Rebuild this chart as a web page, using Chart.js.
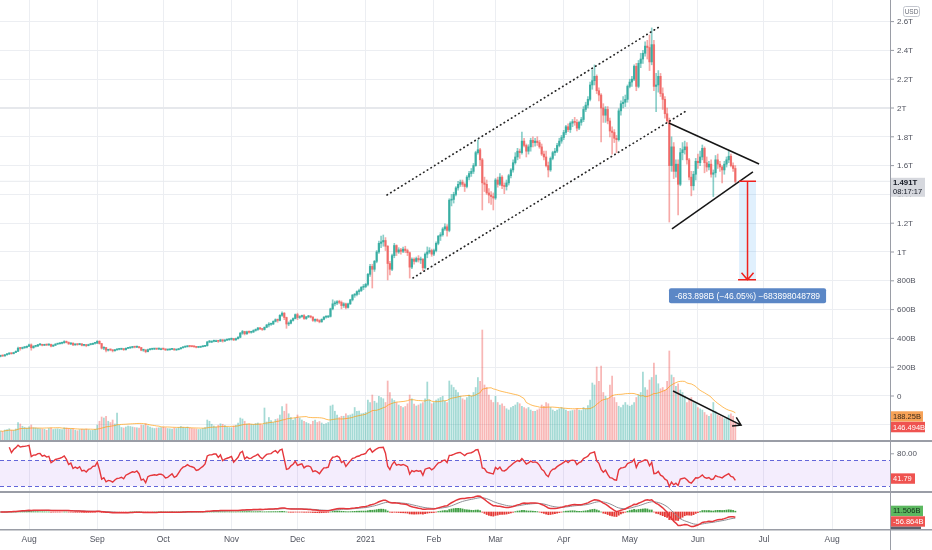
<!DOCTYPE html>
<html>
<head>
<meta charset="utf-8">
<title>Crypto total market cap</title>
<script src="https://cdn.jsdelivr.net/npm/chart.js@4.4.1/dist/chart.umd.min.js"></script>
<style>
  html, body { margin: 0; padding: 0; background: #fff; }
  #wrap { position: relative; width: 932px; height: 550px; overflow: hidden; }
  #wrap canvas { position: absolute; left: 0; }
  .sep { position: absolute; left: 0; width: 932px; height: 2px; background: #9a9da6; }
</style>
</head>
<body>
<div id="wrap">
  <canvas id="price" width="932" height="440" style="top:0"></canvas>
  <div class="sep" style="top:440px"></div>
  <canvas id="rsi" width="932" height="49" style="top:442px"></canvas>
  <div class="sep" style="top:491px"></div>
  <canvas id="macd" width="932" height="57" style="top:493px"></canvas>
</div>
<script>
// day index 0 = 19 Jul 2020, last candle = 18 Jun 2021
var monthTicks = [13, 44, 74, 105, 135, 166, 197, 225, 256, 286, 317, 347, 378];
var monthNames = ['Aug', 'Sep', 'Oct', 'Nov', 'Dec', '2021', 'Feb', 'Mar', 'Apr', 'May', 'Jun', 'Jul', 'Aug'];
var priceTicks = [-200, 0, 200, 400, 600, 800, 1000, 1200, 1400, 1600, 1800, 2000, 2200, 2400, 2600];

// values in billions USD
var firstOpen = 275;
var closes = [
  280,278,286,292,296,294,302,310,332,330,336,338,345, // jul
  355,335,345,346,356,357,352,357,354,358,346,352,360,363,366,370,378,372,362,367,355,360,357,362,352,354,350,357,359,366,367, // aug
  380,364,332,336,318,322,320,314,320,324,325,327,322,331,334,337,340,339,342,336,318,320,308,322,325,326,327,326,328,328, // sep
  326,320,321,324,327,320,322,328,335,340,342,346,344,343,342,338,339,342,345,350,375,380,380,384,384,380,390,382,388,391,394, // oct
  398,390,398,408,436,448,432,446,442,445,455,462,472,466,462,477,493,498,500,518,530,525,560,575,545,500,505,525,538,565, // nov
  545,552,558,538,550,553,548,525,530,524,515,532,548,549,553,605,640,645,655,650,628,640,615,640,668,700,705,725,732,755,760, // dec
  775,845,900,880,935,1000,1060,1070,1080,1040,920,880,975,1045,1000,1015,1005,1020,1010,995,895,950,935,955,945,950,890,985,1000,1010,985, // jan
  1010,1060,1110,1120,1160,1175,1150,1360,1365,1400,1445,1470,1485,1470,1455,1520,1545,1560,1600,1690,1710,1640,1480,1470,1410,1395,1385,1375, // feb
  1500,1470,1520,1460,1455,1480,1530,1570,1620,1660,1700,1690,1770,1740,1700,1730,1775,1760,1770,1760,1730,1680,1660,1600,1570,1650,1690,1700,1740,1770,1795, // mar
  1830,1870,1850,1895,1905,1900,1860,1900,1920,1990,2020,2060,2160,2190,2220,2120,2090,2000,1950,1990,1910,1840,1830,1790,1780,1980,2030,2040,2060,2150, // apr
  2180,2200,2290,2150,2310,2340,2380,2430,2420,2320,2440,2150,2160,2220,2100,2060,1960,1910,1600,1730,1560,1610,1470,1690,1710,1730,1640,1520,1460,1540,1630, // may
  1620,1660,1720,1620,1590,1610,1540,1550,1640,1610,1590,1570,1610,1640,1665,1600,1580,1491 // jun
];
var highs = [
  284,284,289,296,300,299,304,313,340,338,340,342,348,
  360,362,350,352,358,362,360,360,360,362,360,356,364,366,370,374,384,382,376,370,369,362,362,366,364,358,358,360,363,368,372,
  384,384,366,342,338,324,326,322,324,328,328,330,330,334,338,340,344,344,346,344,338,324,322,325,328,330,330,330,332,332,
  330,328,324,326,330,330,324,330,338,342,346,350,350,348,346,344,342,344,348,352,380,386,384,388,388,386,394,392,392,395,398,
  402,400,402,412,442,456,450,450,452,450,460,466,476,476,468,480,498,510,506,522,536,535,566,585,580,548,515,530,542,570,
  575,558,562,565,552,560,558,552,536,536,530,536,552,556,558,610,668,660,662,665,660,648,645,645,672,706,712,730,742,760,775,
  782,852,915,915,942,1010,1075,1110,1118,1100,1045,935,985,1060,1050,1030,1025,1035,1040,1020,1000,960,960,965,975,965,955,995,1035,1030,1020,
  1020,1070,1115,1135,1170,1195,1190,1370,1400,1415,1455,1490,1500,1500,1480,1530,1560,1580,1615,1700,1778,1720,1650,1520,1500,1440,1420,1410,
  1510,1520,1545,1530,1480,1500,1540,1580,1640,1690,1720,1715,1833,1790,1750,1745,1790,1800,1790,1800,1775,1750,1700,1700,1625,1660,1700,1720,1755,1790,1810,
  1845,1880,1890,1905,1920,1935,1920,1910,1935,2010,2040,2080,2180,2264,2299,2230,2140,2100,2030,2010,2010,1930,1870,1850,1810,1995,2050,2080,2090,2160,
  2200,2220,2300,2310,2330,2380,2400,2460,2470,2507,2556,2470,2240,2260,2240,2140,2080,2000,1930,1800,1760,1640,1640,1720,1760,1770,1760,1650,1560,1560,1650,
  1680,1700,1743,1730,1660,1630,1640,1570,1670,1680,1630,1600,1630,1660,1700,1680,1620,1600
];
var lows = [
  272,274,276,284,288,290,292,300,308,318,326,330,334,
  342,318,332,340,344,352,348,350,350,352,340,344,350,358,360,362,366,368,358,356,350,352,352,355,348,348,342,348,354,356,360,
  364,360,326,322,306,312,314,306,312,318,320,321,316,318,328,330,333,334,336,332,314,310,300,306,318,321,322,322,322,323,
  322,316,316,318,322,318,316,320,326,332,337,340,340,340,338,334,335,336,340,342,346,370,372,376,378,372,378,374,378,384,386,
  388,384,386,394,404,428,424,428,436,436,440,450,456,460,455,458,474,480,490,496,514,512,522,552,530,470,488,500,520,535,
  530,538,545,532,532,544,542,518,515,516,508,512,528,540,544,548,598,625,634,640,605,615,605,610,635,660,685,695,705,725,738,
  752,765,830,750,865,925,990,1030,1040,1010,806,840,870,960,975,990,985,995,995,975,819,885,915,930,930,920,870,880,960,990,970,
  975,1000,1050,1080,1110,1150,1110,1140,1320,1340,1390,1430,1455,1455,1420,1445,1500,1525,1545,1595,1680,1600,1292,1420,1400,1340,1330,1292,
  1365,1450,1460,1440,1405,1430,1465,1515,1555,1610,1640,1650,1680,1730,1660,1680,1700,1730,1735,1740,1720,1670,1640,1590,1521,1560,1640,1670,1690,1730,1755,
  1780,1815,1835,1830,1870,1880,1840,1850,1880,1905,1975,2000,2050,2130,2160,2100,2050,1765,1900,1900,1890,1800,1680,1760,1690,1770,1950,2000,2010,2040,
  2140,2150,2190,2120,2140,2280,2310,2360,2340,2260,2300,2120,1975,2110,2080,1990,1930,1900,1208,1560,1510,1520,1257,1460,1640,1680,1610,1500,1390,1430,1500,
  1580,1600,1640,1550,1560,1570,1520,1385,1520,1580,1560,1480,1540,1590,1620,1590,1560,1480
];
var volumes = [
  72,68,80,84,90,78,76,88,140,128,110,102,96,
  105,120,98,96,92,90,88,86,78,92,96,84,88,90,86,84,98,96,92,88,90,78,74,82,86,84,88,82,76,78,86,
  120,150,184,176,190,150,140,160,128,216,118,100,96,104,112,108,104,100,98,96,120,118,130,114,104,96,92,96,98,100,
  102,98,92,90,88,96,92,100,108,102,98,104,96,92,90,88,84,86,92,100,160,150,126,112,104,118,130,126,116,104,100,
  98,112,118,136,176,168,150,128,130,126,124,132,136,128,120,256,144,180,156,140,164,170,200,268,230,288,210,180,160,176,
  200,176,160,150,140,132,124,150,160,140,148,136,126,132,140,272,280,230,200,180,190,190,210,196,200,208,260,230,232,210,214,
  220,320,300,360,310,296,350,340,330,300,472,380,330,316,300,280,270,260,268,290,360,330,288,272,280,290,300,330,464,320,290,
  300,320,330,340,350,310,300,472,440,420,400,380,350,330,320,340,360,352,380,420,500,470,880,440,420,360,320,300,
  350,300,280,290,270,250,240,260,270,280,300,290,270,260,250,260,240,230,230,240,250,280,270,300,290,260,240,230,240,250,260,
  250,240,230,232,236,240,250,240,236,260,250,276,320,456,440,584,470,592,380,350,330,440,512,340,300,270,260,280,300,280,
  270,280,300,340,360,380,544,420,400,480,500,616,520,450,410,420,400,470,712,520,500,430,450,400,380,350,300,320,340,300,290,
  260,250,240,220,200,190,210,300,230,200,190,180,170,180,200,210,190,146
];

// drawings, in [day index, value] pairs
var channelLines = [[175.7, 1396, 299.3, 2562], [187.5, 820, 311.6, 1979]];
var triangleLines = [[303.8, 1896, 344.8, 1611], [305.2, 1160, 342.0, 1556]];
var measureRange = {x0: 335.7, x1: 343.4, from: 1491, to: 807.1};
var measureText = '-683.898B (\u221246.05%) \u2212683898048789';
var volumeArrow = [305.7, 392, 336.6, 119];

// last value tags as shown on the axis
var lastPriceText = '1.491T', countdownText = '08:17:17';
var volMaTag = {value: 188.258, text: '188.25B'};
var volTag = {value: 146.494, text: '146.494B'};
var rsiTag = {value: 41.79, text: '41.79'};
var histTag = {value: 11.506, text: '11.506B'};
var macdTag = {value: -56.864, text: '-56.864B'};

var X_MIN = -0.2, X_MAX = 404.3;
var FONT = '"Liberation Sans", Arial, sans-serif';
var gridCol = '#eceef2';
var axisCol = '#9a9da6';
var textCol = '#50535e';

var opens = closes.map(function (c, i) { return i === 0 ? firstOpen : closes[i - 1]; });
var isUp = closes.map(function (c, i) { return c >= opens[i]; });

// indicators from the candles
function ema(arr, n) {
  var k = 2 / (n + 1), e = arr[0];
  return arr.map(function (v, i) { e = i === 0 ? v : v * k + e * (1 - k); return e; });
}
var volMA = volumes.map(function (v, i) {
  var s = volumes.slice(Math.max(0, i - 19), i + 1);
  return s.reduce(function (a, b) { return a + b; }, 0) / s.length;
});
var rsi = [null];
var ag = 0, al = 0;
for (var i = 1; i < closes.length; i++) {
  var d = closes[i] - closes[i - 1];
  var g = Math.max(d, 0), l = Math.max(-d, 0);
  if (i <= 14) { ag += (g - ag) / i; al += (l - al) / i; }
  else { ag = (ag * 13 + g) / 14; al = (al * 13 + l) / 14; }
  rsi.push(i < 4 ? null : (al === 0 ? 100 : 100 - 100 / (1 + ag / al)));
}
var ema12 = ema(closes, 12), ema26 = ema(closes, 26);
var macd = ema12.map(function (v, i) { return v - ema26[i]; });
var signal = ema(macd, 9);
var hist = macd.map(function (v, i) { return v - signal[i]; });
// pane range: zero line 19px below the top of a 36px pane, extremes about 16px from it
var macdPeak = Math.max.apply(null, macd.map(Math.abs));
var macdMax = macdPeak * 19 / 16, macdMin = -macdPeak * 17 / 16;

function xy(arr) { return arr.map(function (v, i) { return {x: i, y: v}; }); }

function xAxis(h) {
  return {
    type: 'linear', min: X_MIN, max: X_MAX, offset: false,
    afterBuildTicks: function (s) { s.ticks = monthTicks.map(function (v) { return {value: v}; }); },
    ticks: {display: false},
    grid: {color: gridCol, drawTicks: false, offset: false},
    border: {display: false},
    afterFit: function (s) { s.height = h; }
  };
}
function yAxis(min, max, ticks, showGrid) {
  return {
    position: 'right', min: min, max: max,
    afterBuildTicks: function (s) { s.ticks = ticks.map(function (v) { return {value: v}; }); },
    ticks: {display: false},
    grid: {display: showGrid, color: gridCol, drawTicks: false},
    border: {display: true, color: axisCol},
    afterFit: function (s) { s.width = 42; }
  };
}
function baseOptions(scales) {
  return {
    responsive: false, animation: false, events: [],
    layout: {padding: 0, autoPadding: false},
    plugins: {legend: {display: false}, tooltip: {enabled: false}},
    scales: scales
  };
}
function tag(ctx, a, y, text, bg, fg, w) {
  ctx.fillStyle = bg;
  ctx.fillRect(a.right + 1, y - 5.2, w, 10.4);
  ctx.fillStyle = fg;
  ctx.font = '7.5px ' + FONT;
  ctx.textAlign = 'left';
  ctx.textBaseline = 'middle';
  ctx.fillText(text, a.right + 3, y + 0.5);
}
function axisText(ctx, a, y, text) {
  ctx.fillStyle = axisCol;
  ctx.fillRect(a.right, y - 0.5, 4, 1);
  ctx.fillStyle = textCol;
  ctx.font = '8px ' + FONT;
  ctx.textAlign = 'left';
  ctx.textBaseline = 'middle';
  ctx.fillText(text, a.right + 7, y + 0.5);
}
function fmtPrice(v) {
  if (v === 0) return '0';
  if (Math.abs(v) < 1000) return v + 'B';
  return (v / 1000) + 'T';
}
function seg(ctx, x, y, p) {
  ctx.beginPath();
  ctx.moveTo(x.getPixelForValue(p[0]), y.getPixelForValue(p[1]));
  ctx.lineTo(x.getPixelForValue(p[2]), y.getPixelForValue(p[3]));
  ctx.stroke();
}

var pricePlugin = {
  id: 'priceDraw',
  beforeDatasetsDraw: function (chart) {
    var ctx = chart.ctx, a = chart.chartArea, y = chart.scales.y;
    ctx.save();
    ctx.fillStyle = '#e6e8ec';
    ctx.fillRect(a.left, y.getPixelForValue(2000) - 1, a.right - a.left, 2);
    ctx.fillStyle = '#e8eaee';
    ctx.fillRect(a.left, y.getPixelForValue(1491) - 0.5, a.right - a.left, 1);
    ctx.restore();
  },
  afterDatasetsDraw: function (chart) {
    var ctx = chart.ctx, a = chart.chartArea, x = chart.scales.x, y = chart.scales.y, yv = chart.scales.yv;
    ctx.save();
    ctx.beginPath();
    ctx.rect(a.left, a.top, a.right - a.left, a.bottom - a.top);
    ctx.clip();
    // parallel channel
    ctx.strokeStyle = '#262626';
    ctx.lineWidth = 1.7;
    ctx.lineCap = 'round';
    ctx.setLineDash([0.5, 3.8]);
    channelLines.forEach(function (p) { seg(ctx, x, y, p); });
    ctx.setLineDash([]);
    ctx.lineCap = 'butt';
    // triangle
    ctx.strokeStyle = '#161616';
    ctx.lineWidth = 1.5;
    triangleLines.forEach(function (p) { seg(ctx, x, y, p); });
    // measured move
    var mx0 = x.getPixelForValue(measureRange.x0), mx1 = x.getPixelForValue(measureRange.x1);
    var mxc = (mx0 + mx1) / 2;
    var my0 = y.getPixelForValue(measureRange.from), my1 = y.getPixelForValue(measureRange.to);
    ctx.fillStyle = 'rgba(33,150,243,0.14)';
    ctx.fillRect(mx0, my0, mx1 - mx0, my1 - my0);
    ctx.strokeStyle = '#f0221e';
    ctx.lineWidth = 1.5;
    ctx.beginPath();
    ctx.moveTo(mx0, my0); ctx.lineTo(mx1, my0);
    ctx.moveTo(mxc, my0); ctx.lineTo(mxc, my1);
    ctx.moveTo(mx0 - 1, my1); ctx.lineTo(mx1, my1);
    ctx.moveTo(mxc - 6, my1 - 7); ctx.lineTo(mxc, my1); ctx.lineTo(mxc + 6, my1 - 7);
    ctx.stroke();
    ctx.font = '8.5px ' + FONT;
    var tw = ctx.measureText(measureText).width + 12;
    ctx.fillStyle = '#5b87c6';
    ctx.beginPath();
    ctx.roundRect(mxc - tw / 2, my1 + 8.5, tw, 15, 2);
    ctx.fill();
    ctx.fillStyle = '#ffffff';
    ctx.textAlign = 'center';
    ctx.textBaseline = 'middle';
    ctx.fillText(measureText, mxc, my1 + 16.5);
    // arrow over volume
    var ax0 = x.getPixelForValue(volumeArrow[0]), ay0 = yv.getPixelForValue(volumeArrow[1]);
    var ax1 = x.getPixelForValue(volumeArrow[2]), ay1 = yv.getPixelForValue(volumeArrow[3]);
    var ang = Math.atan2(ay1 - ay0, ax1 - ax0);
    ctx.strokeStyle = '#161616';
    ctx.lineWidth = 1.5;
    ctx.beginPath();
    ctx.moveTo(ax0, ay0); ctx.lineTo(ax1, ay1);
    ctx.moveTo(ax1 - 9 * Math.cos(ang - 0.55), ay1 - 9 * Math.sin(ang - 0.55));
    ctx.lineTo(ax1, ay1);
    ctx.lineTo(ax1 - 9 * Math.cos(ang + 0.55), ay1 - 9 * Math.sin(ang + 0.55));
    ctx.stroke();
    ctx.restore();
  },
  afterDraw: function (chart) {
    var ctx = chart.ctx, a = chart.chartArea, y = chart.scales.y, yv = chart.scales.yv;
    ctx.save();
    priceTicks.forEach(function (v) {
      if (v < 0) return;
      axisText(ctx, a, y.getPixelForValue(v), fmtPrice(v));
    });
    // last price tag
    var py = y.getPixelForValue(1491);
    ctx.fillStyle = '#d6d8de';
    ctx.fillRect(a.right + 1, py - 3.5, 34, 19);
    ctx.fillStyle = '#131722';
    ctx.textAlign = 'left';
    ctx.textBaseline = 'middle';
    ctx.font = 'bold 7.8px ' + FONT;
    ctx.fillText(lastPriceText, a.right + 3, py + 1.5);
    ctx.font = '7.5px ' + FONT;
    ctx.fillText(countdownText, a.right + 3, py + 10.5);
    // volume tags
    var yo = yv.getPixelForValue(volMaTag.value);
    var yr = Math.max(yv.getPixelForValue(volTag.value), yo + 10.6);
    tag(ctx, a, yo, volMaTag.text, '#f6a257', '#3a2a1a', 32);
    tag(ctx, a, yr, volTag.text, '#ef5350', '#ffffff', 34);
    // currency
    ctx.strokeStyle = '#c3c6ce';
    ctx.lineWidth = 1;
    ctx.beginPath();
    ctx.roundRect(903.5, 6.5, 16, 10, 2);
    ctx.stroke();
    ctx.fillStyle = '#6a6d78';
    ctx.font = '6.5px ' + FONT;
    ctx.textAlign = 'center';
    ctx.fillText('USD', 911.5, 12);
    ctx.restore();
  }
};

new Chart(document.getElementById('price'), {
  type: 'bar',
  data: {
    datasets: [
      {
        type: 'bar', yAxisID: 'yv', data: xy(volumes), grouped: false, order: 4,
        barPercentage: 1, categoryPercentage: 1, maxBarThickness: 1.1,
        backgroundColor: isUp.map(function (u) { return u ? 'rgba(38,166,154,0.42)' : 'rgba(239,83,80,0.42)'; })
      },
      {
        type: 'line', yAxisID: 'yv', data: xy(volMA), order: 3,
        borderColor: 'rgba(255,152,0,0.65)', borderWidth: 1, pointRadius: 0
      },
      {
        type: 'bar', yAxisID: 'y', grouped: false, order: 2,
        barPercentage: 1, categoryPercentage: 1, maxBarThickness: 1,
        data: closes.map(function (c, i) {
          return {x: i, y: [Math.min(lows[i], opens[i], c), Math.max(highs[i], opens[i], c)]};
        }),
        backgroundColor: isUp.map(function (u) { return u ? 'rgba(38,166,154,0.55)' : 'rgba(239,83,80,0.5)'; })
      },
      {
        type: 'bar', yAxisID: 'y', grouped: false, order: 1,
        barPercentage: 1, categoryPercentage: 1, maxBarThickness: 1.6, minBarLength: 1,
        data: closes.map(function (c, i) { return {x: i, y: [opens[i], c]}; }),
        backgroundColor: isUp.map(function (u) { return u ? 'rgba(38,166,154,0.8)' : 'rgba(239,83,80,0.72)'; })
      }
    ]
  },
  options: baseOptions({
    x: xAxis(0),
    y: yAxis(-305.6, 2750, priceTicks, true),
    yv: {display: false, position: 'right', min: 0, max: 3520}
  }),
  plugins: [pricePlugin]
});

var rsiPlugin = {
  id: 'rsiDraw',
  beforeDatasetsDraw: function (chart) {
    var ctx = chart.ctx, a = chart.chartArea, y = chart.scales.y;
    var y70 = y.getPixelForValue(70), y30 = y.getPixelForValue(30);
    ctx.save();
    ctx.fillStyle = 'rgba(149,76,233,0.1)';
    ctx.fillRect(a.left, y70, a.right - a.left, y30 - y70);
    ctx.strokeStyle = '#6366d9';
    ctx.lineWidth = 1;
    ctx.setLineDash([4, 3]);
    [y70, y30].forEach(function (yy) {
      ctx.beginPath();
      ctx.moveTo(a.left, Math.round(yy) + 0.5);
      ctx.lineTo(a.right, Math.round(yy) + 0.5);
      ctx.stroke();
    });
    ctx.restore();
  },
  afterDraw: function (chart) {
    var ctx = chart.ctx, a = chart.chartArea, y = chart.scales.y;
    ctx.save();
    axisText(ctx, a, y.getPixelForValue(80), '80.00');
    tag(ctx, a, y.getPixelForValue(rsiTag.value), rsiTag.text, '#ef5350', '#ffffff', 24);
    ctx.restore();
  }
};

new Chart(document.getElementById('rsi'), {
  type: 'line',
  data: {
    datasets: [{
      data: xy(rsi), borderColor: '#e5373c', borderWidth: 1.4, pointRadius: 0, spanGaps: false
    }]
  },
  options: baseOptions({
    x: xAxis(0),
    y: yAxis(22.6, 98.2, [80], false)
  }),
  plugins: [rsiPlugin]
});

var macdPlugin = {
  id: 'macdDraw',
  afterDraw: function (chart) {
    var ctx = chart.ctx, a = chart.chartArea, x = chart.scales.x, y = chart.scales.y;
    ctx.save();
    var yg = y.getPixelForValue(histTag.value);
    var yr = Math.max(y.getPixelForValue(macdTag.value), yg + 10.6);
    tag(ctx, a, yg, histTag.text, '#5cb860', '#14301a', 32);
    tag(ctx, a, yr, macdTag.text, '#ef5350', '#ffffff', 34);
    if (a.bottom > yr + 5.2) {
      ctx.fillStyle = '#5d606b';
      ctx.fillRect(a.right + 1, yr + 5.2, 30, a.bottom - yr - 5.2);
    }
    // time axis
    ctx.fillStyle = axisCol;
    ctx.fillRect(0, a.bottom, 932, 1.5);
    ctx.fillRect(a.right, a.bottom, 1, chart.height - a.bottom);
    ctx.fillStyle = textCol;
    ctx.font = '8.5px ' + FONT;
    ctx.textAlign = 'center';
    ctx.textBaseline = 'middle';
    monthTicks.forEach(function (t, k) {
      ctx.fillText(monthNames[k], x.getPixelForValue(t), a.bottom + 11);
    });
    ctx.restore();
  }
};

new Chart(document.getElementById('macd'), {
  type: 'bar',
  data: {
    datasets: [
      {
        type: 'bar', data: xy(hist), grouped: false, order: 3,
        barPercentage: 1, categoryPercentage: 1, maxBarThickness: 1.2,
        backgroundColor: hist.map(function (v) { return v >= 0 ? '#43a047' : '#e53935'; })
      },
      {type: 'line', data: xy(signal), borderColor: '#8d8f96', borderWidth: 1, pointRadius: 0, order: 2},
      {type: 'line', data: xy(macd), borderColor: '#e5373c', borderWidth: 1.5, pointRadius: 0, order: 1}
    ]
  },
  options: baseOptions({
    x: xAxis(21),
    y: yAxis(macdMin, macdMax, [], false)
  }),
  plugins: [macdPlugin]
});
</script>
</body>
</html>
